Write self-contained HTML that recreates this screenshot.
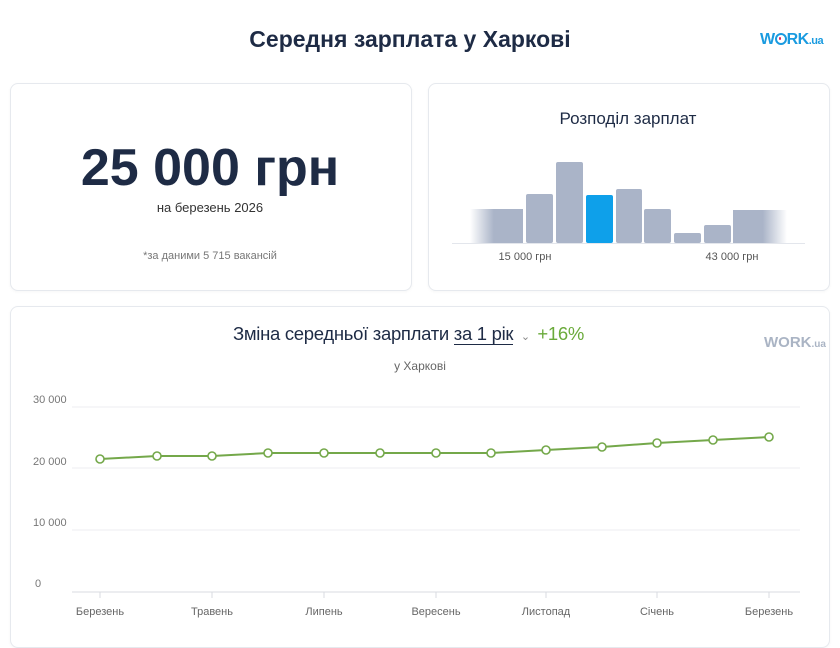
<!DOCTYPE html>
<html><head><meta charset="utf-8"><style>
body{margin:0;width:840px;height:638px;background:#fff;font-family:"Liberation Sans","DejaVu Sans",sans-serif;position:relative;overflow:hidden;color:#1e2b45}
.card{position:absolute;border:1px solid #e6e9ee;border-radius:8px;background:#fff;box-shadow:0 1px 3px rgba(0,0,0,0.04)}
.t{position:absolute;white-space:nowrap}
</style></head><body>
<div class="t" style="left:0;width:820px;text-align:center;top:26px;font-size:23px;font-weight:bold;color:#1e2b45">Середня зарплата у Харкові</div>
<div class="t" style="left:760px;top:31px;font-size:16px;font-weight:bold;color:#1a9be0;letter-spacing:-0.5px">W<span style="display:inline-block;width:12px;height:12px;border:2.5px solid #1a9be0;border-radius:50%;box-sizing:border-box;vertical-align:-1px;position:relative"><span style="position:absolute;left:2.3px;top:2.3px;width:2.5px;height:2.5px;background:#e0245e;border-radius:50%"></span></span>RK<span style="font-size:11px">.ua</span></div>

<div class="card" style="left:10px;top:83px;width:400px;height:206px"></div>
<div class="t" style="left:10px;width:400px;text-align:center;top:138px;font-size:52px;font-weight:bold;color:#1e2b45">25 000 грн</div>
<div class="t" style="left:10px;width:400px;text-align:center;top:200px;font-size:13px;color:#333">на березень 2026</div>
<div class="t" style="left:10px;width:400px;text-align:center;top:250px;font-size:11px;color:#777">*за даними 5 715 вакансій</div>

<div class="card" style="left:428px;top:83px;width:400px;height:206px"></div>
<div class="t" style="left:428px;width:400px;text-align:center;top:109px;font-size:17px;color:#1e2b45">Розподіл зарплат</div>
<svg style="position:absolute;left:0;top:0" width="840" height="300">
<defs>
<linearGradient id="gl" x1="0" x2="1"><stop offset="0" stop-color="#aab4c8" stop-opacity="0"/><stop offset="0.45" stop-color="#aab4c8"/></linearGradient>
<linearGradient id="gr" x1="0" x2="1"><stop offset="0.55" stop-color="#aab4c8"/><stop offset="1" stop-color="#aab4c8" stop-opacity="0"/></linearGradient>
</defs>
<line x1="452" y1="243.5" x2="805" y2="243.5" stroke="#e3e6ec"/>
<rect x="470" y="209" width="53" height="34" fill="url(#gl)"/>
<rect x="526" y="194" width="27" height="49" rx="2" fill="#aab4c8"/>
<rect x="556" y="162" width="27" height="81" rx="2" fill="#aab4c8"/>
<rect x="586" y="195" width="27" height="48" rx="2" fill="#0ea0ea"/>
<rect x="616" y="189" width="26" height="54" rx="2" fill="#aab4c8"/>
<rect x="644" y="209" width="27" height="34" rx="2" fill="#aab4c8"/>
<rect x="674" y="233" width="27" height="10" rx="2" fill="#aab4c8"/>
<rect x="704" y="225" width="27" height="18" rx="2" fill="#aab4c8"/>
<rect x="733" y="210" width="54" height="33" fill="url(#gr)"/>
<text x="525" y="260" font-size="11" fill="#555" text-anchor="middle" font-family="Liberation Sans,sans-serif">15 000 грн</text>
<text x="732" y="260" font-size="11" fill="#555" text-anchor="middle" font-family="Liberation Sans,sans-serif">43 000 грн</text>
</svg>

<div class="card" style="left:10px;top:306px;width:818px;height:340px"></div>
<div class="t" style="left:233px;top:323px;font-size:18.5px;color:#1e2b45;letter-spacing:-0.3px">Зміна середньої зарплати <span style="border-bottom:1px solid #1e2b45">за 1 рік</span> <span style="color:#888;font-size:11px">&nbsp;⌄&nbsp;</span> <span style="color:#6aaa3a">+16%</span></div>
<div class="t" style="left:764px;top:334px;font-size:15px;font-weight:bold;color:#aab4c4">WORK<span style="font-size:10px">.ua</span></div>
<div class="t" style="left:0;width:840px;text-align:center;top:359px;font-size:12px;color:#666">у Харкові</div>
<svg style="position:absolute;left:0;top:0" width="840" height="638" font-family="Liberation Sans,sans-serif">
<g stroke="#eceef2"><line x1="72" x2="800" y1="407" y2="407"/><line x1="72" x2="800" y1="468" y2="468"/><line x1="72" x2="800" y1="530" y2="530"/></g>
<line x1="72" x2="800" y1="592" y2="592" stroke="#d8dbe0"/>
<g font-size="11" fill="#777">
<text x="33" y="403">30 000</text><text x="33" y="465">20 000</text><text x="33" y="526">10 000</text><text x="35" y="587">0</text>
</g>
<g stroke="#d8dbe0"><line x1="100" x2="100" y1="592" y2="598"/><line x1="212" x2="212" y1="592" y2="598"/><line x1="324" x2="324" y1="592" y2="598"/><line x1="436" x2="436" y1="592" y2="598"/><line x1="546" x2="546" y1="592" y2="598"/><line x1="657" x2="657" y1="592" y2="598"/><line x1="769" x2="769" y1="592" y2="598"/></g>
<g font-size="11" fill="#666" text-anchor="middle">
<text x="100" y="615">Березень</text><text x="212" y="615">Травень</text><text x="324" y="615">Липень</text><text x="436" y="615">Вересень</text><text x="546" y="615">Листопад</text><text x="657" y="615">Січень</text><text x="769" y="615">Березень</text>
</g>
<polyline fill="none" stroke="#74a84a" stroke-width="2" points="100,459 157,456 212,456 268,453 324,453 380,453 436,453 491,453 546,450 602,447 657,443 713,440 769,437"/>
<g fill="#fff" stroke="#74a84a" stroke-width="1.6">
<circle cx="100" cy="459" r="4"/><circle cx="157" cy="456" r="4"/><circle cx="212" cy="456" r="4"/><circle cx="268" cy="453" r="4"/><circle cx="324" cy="453" r="4"/><circle cx="380" cy="453" r="4"/><circle cx="436" cy="453" r="4"/><circle cx="491" cy="453" r="4"/><circle cx="546" cy="450" r="4"/><circle cx="602" cy="447" r="4"/><circle cx="657" cy="443" r="4"/><circle cx="713" cy="440" r="4"/><circle cx="769" cy="437" r="4"/>
</g>
</svg>
</body></html>
